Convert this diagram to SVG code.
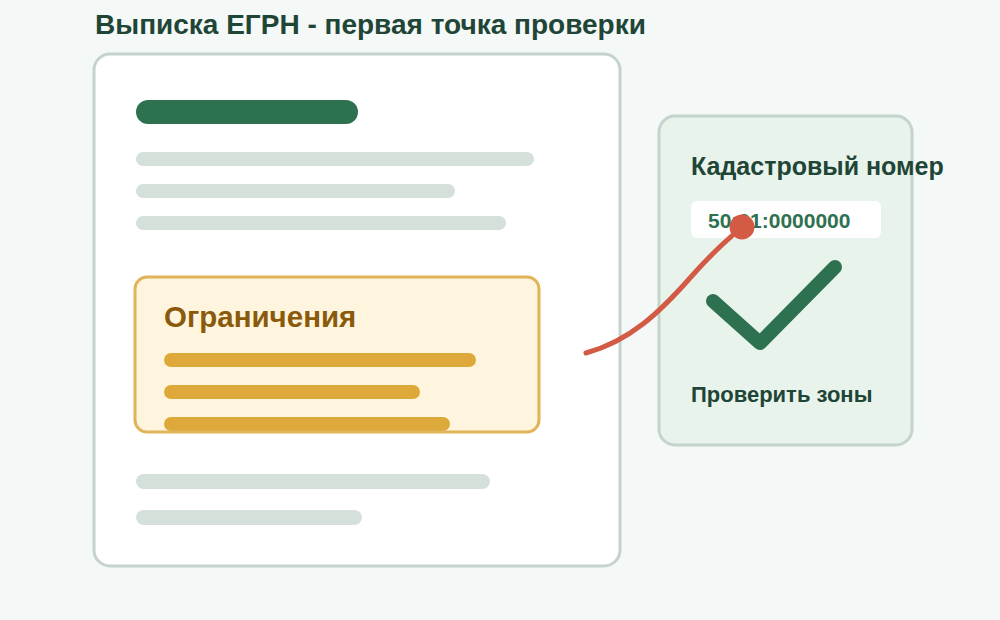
<svg xmlns="http://www.w3.org/2000/svg" width="1000" height="620" viewBox="0 0 1000 620">
<style>
.t{font-family:"Liberation Sans",Arial,sans-serif;font-weight:bold}
.gray{fill:#d5e0db}
.gold{fill:#dca93a}
</style>
<rect width="1000" height="620" fill="#f4f8f6"/>
<text class="t" x="95" y="34" font-size="28" fill="#1f4536">Выписка ЕГРН - первая точка проверки</text>
<g id="document">
<rect x="94" y="54" width="526" height="512" rx="16" fill="#ffffff" stroke="#c4d4cc" stroke-width="3"/>
<rect x="136" y="100" width="222" height="24" rx="12" fill="#2e7150"/>
<rect class="gray" x="136" y="152" width="398" height="14" rx="7"/>
<rect class="gray" x="136" y="184" width="319" height="14" rx="7"/>
<rect class="gray" x="136" y="216" width="370" height="14" rx="7"/>
<rect class="gray" x="136" y="474" width="354" height="15" rx="7.5"/>
<rect class="gray" x="136" y="510" width="226" height="15" rx="7.5"/>
</g>
<g id="restrictions">
<rect x="135" y="277" width="404" height="155" rx="12" fill="#fff4dd"/>
<text class="t" x="164" y="327" font-size="29.5" fill="#8a5a0a">Ограничения</text>
<rect class="gold" x="164" y="353" width="312" height="14" rx="7"/>
<rect class="gold" x="164" y="385" width="256" height="14" rx="7"/>
<rect class="gold" x="164" y="417" width="286" height="14" rx="7"/>
<rect x="135" y="277" width="404" height="155" rx="12" fill="none" stroke="#e0b458" stroke-width="3"/>
</g>
<g id="cadastral-card">
<rect x="659" y="116" width="253" height="329" rx="16" fill="#e8f3ec" stroke="#c4d4cc" stroke-width="3"/>
<text class="t" x="691" y="175" font-size="25" fill="#1f4536">Кадастровый номер</text>
<rect x="691" y="201" width="190" height="37" rx="6" fill="#ffffff"/>
<text class="t" x="708" y="228" font-size="21" fill="#2e7150">50:01:0000000</text>
<path d="M713,301 L760,343 L835,267" fill="none" stroke="#2e7150" stroke-width="14" stroke-linecap="round" stroke-linejoin="round"/>
<text class="t" x="691" y="402" font-size="22" fill="#1f4536">Проверить зоны</text>
</g>
<g id="connectors">
<path d="M586,353 C630,341 660,312 690,278 S728,240 742,227" fill="none" stroke="#d35a45" stroke-width="5" stroke-linecap="round"/>
<circle cx="742" cy="227" r="12.5" fill="#d35a45"/>
</g>
</svg>
